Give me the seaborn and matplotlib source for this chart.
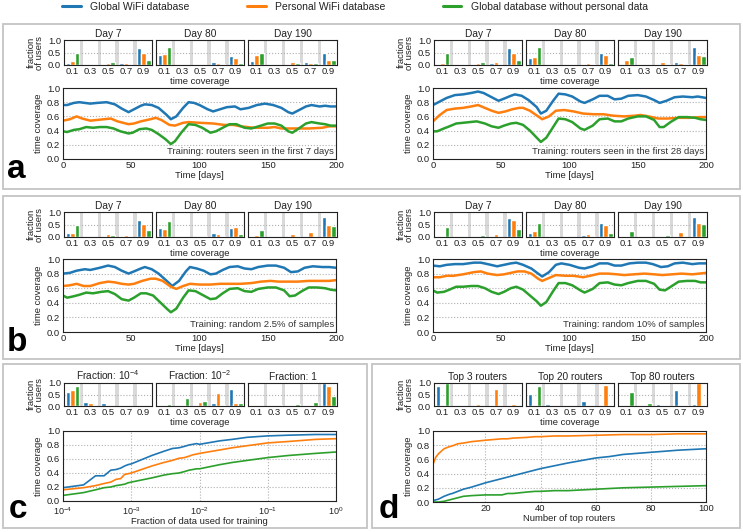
import numpy as np
import pandas as pd
import matplotlib
matplotlib.use("Agg")
import matplotlib.pyplot as plt
import seaborn as sns
from matplotlib.lines import Line2D
from matplotlib.patches import Rectangle

sns.set_style("white")
plt.rcParams['font.family'] = ['Liberation Sans', 'DejaVu Sans']
plt.rcParams['mathtext.fontset'] = 'custom'
plt.rcParams['mathtext.rm'] = 'Liberation Sans'

# ---------------- data ----------------
series_names = ["Global WiFi database", "Personal WiFi database", "Global database without personal data"]
colors = ["#1f77b4", "#ff7f0e", "#2ca02c"]
bins = ["0.1", "0.3", "0.5", "0.7", "0.9"]

# bar histograms: rows = [global, personal, without personal], columns = bins
a1_titles = ["Day 7", "Day 80", "Day 190"]
a1_day7 = [[0.07, 0.00, 0.05, 0.08, 0.68], [0.15, 0.01, 0.10, 0.10, 0.50], [0.47, 0.04, 0.12, 0.00, 0.22]]
a1_day80 = [[0.40, 0.00, 0.00, 0.13, 0.35], [0.45, 0.00, 0.00, 0.10, 0.28], [0.73, 0.00, 0.00, 0.05, 0.10]]
a1_day190 = [[0.15, 0.03, 0.05, 0.12, 0.48], [0.40, 0.03, 0.12, 0.10, 0.22], [0.47, 0.02, 0.08, 0.08, 0.22]]

a2_day7 = [[0.05, 0.00, 0.04, 0.08, 0.68], [0.10, 0.03, 0.08, 0.12, 0.50], [0.47, 0.04, 0.12, 0.00, 0.22]]
a2_day80 = [[0.28, 0.00, 0.00, 0.06, 0.50], [0.33, 0.02, 0.00, 0.10, 0.40], [0.72, 0.00, 0.00, 0.06, 0.10]]
a2_day190 = [[0.00, 0.03, 0.00, 0.12, 0.72], [0.22, 0.02, 0.12, 0.10, 0.42], [0.33, 0.02, 0.05, 0.05, 0.35]]

b1_day7 = [[0.15, 0.00, 0.00, 0.04, 0.70], [0.15, 0.00, 0.12, 0.10, 0.52], [0.48, 0.02, 0.10, 0.00, 0.28]]
b1_day80 = [[0.37, 0.00, 0.00, 0.17, 0.37], [0.33, 0.00, 0.02, 0.12, 0.42], [0.65, 0.00, 0.03, 0.03, 0.12]]
b1_day190 = [[0.00, 0.00, 0.00, 0.05, 0.80], [0.08, 0.00, 0.12, 0.22, 0.48], [0.30, 0.02, 0.05, 0.00, 0.43]]

b2_day7 = [[0.00, 0.00, 0.00, 0.00, 0.78], [0.02, 0.00, 0.05, 0.12, 0.67], [0.40, 0.03, 0.08, 0.00, 0.33]]
b2_day80 = [[0.17, 0.00, 0.03, 0.08, 0.57], [0.23, 0.00, 0.02, 0.13, 0.48], [0.57, 0.00, 0.00, 0.05, 0.15]]
b2_day190 = [[0.00, 0.00, 0.00, 0.05, 0.82], [0.00, 0.02, 0.05, 0.22, 0.57], [0.23, 0.00, 0.08, 0.00, 0.52]]

c_titles = ["Fraction: $10^{-4}$", "Fraction: $10^{-2}$", "Fraction: 1"]
c_frac_1e4 = [[0.60, 0.17, 0.12, 0.00, 0.00], [0.70, 0.12, 0.00, 0.00, 0.00], [0.88, 0.00, 0.00, 0.00, 0.00]]
c_frac_1e2 = [[0.00, 0.02, 0.00, 0.12, 0.75], [0.02, 0.00, 0.17, 0.55, 0.12], [0.08, 0.33, 0.20, 0.05, 0.13]]
c_frac_1 = [[0.00, 0.00, 0.00, 0.00, 0.98], [0.00, 0.00, 0.02, 0.05, 0.88], [0.01, 0.05, 0.08, 0.17, 0.45]]

d_titles = ["Top 3 routers", "Top 20 routers", "Top 80 routers"]
d_top3 = [[0.85, 0.00, 0.00, 0.02, 0.00], [0.00, 0.00, 0.08, 0.72, 0.10], [1.00, 0.00, 0.00, 0.00, 0.00]]
d_top20 = [[0.52, 0.07, 0.00, 0.22, 0.00], [0.05, 0.00, 0.00, 0.05, 0.90], [0.85, 0.02, 0.00, 0.00, 0.00]]
d_top80 = [[0.00, 0.00, 0.08, 0.68, 0.08], [0.00, 0.00, 0.00, 0.00, 1.00], [0.63, 0.13, 0.01, 0.04, 0.00]]

# time series (day, value)
a1_blue = [(0,.76),(3,.76),(8,.79),(12,.80),(20,.78),(25,.79),(32,.80),(38,.77),(43,.71),(48,.66),(52,.70),(57,.75),(60,.77),(65,.76),(70,.72),(76,.62),(79,.56),(83,.60),(88,.72),(92,.80),(96,.79),(100,.76),(106,.70),(110,.67),(115,.70),(120,.73),(126,.74),(130,.70),(136,.72),(142,.76),(148,.78),(154,.76),(160,.72),(165,.66),(168,.64),(172,.68),(178,.74),(182,.76),(188,.74),(192,.75),(196,.74),(200,.74)]
a1_orange = [(0,.54),(5,.56),(10,.60),(14,.57),(20,.54),(25,.55),(30,.56),(35,.57),(40,.53),(48,.49),(52,.50),(57,.53),(64,.56),(68,.58),(72,.55),(78,.48),(82,.47),(88,.51),(92,.52),(100,.51),(110,.50),(118,.48),(125,.48),(130,.46),(140,.44),(150,.44),(155,.45),(160,.43),(170,.43),(180,.43),(190,.44),(195,.46),(200,.46)]
a1_green = [(0,.39),(3,.38),(8,.41),(12,.42),(17,.45),(22,.44),(27,.45),(32,.45),(37,.43),(42,.39),(48,.36),(51,.37),(56,.42),(61,.43),(65,.41),(70,.35),(75,.28),(79,.21),(82,.25),(87,.38),(92,.49),(97,.48),(102,.44),(108,.37),(112,.39),(117,.44),(122,.49),(127,.49),(133,.44),(138,.43),(145,.47),(150,.50),(155,.50),(160,.47),(165,.39),(168,.37),(172,.42),(178,.50),(182,.52),(188,.50),(192,.49),(196,.47),(200,.47)]

a2_blue = [(0,.76),(4,.80),(10,.86),(16,.90),(22,.91),(28,.93),(33,.95),(37,.93),(43,.87),(48,.82),(52,.85),(57,.89),(60,.91),(65,.89),(70,.83),(76,.73),(79,.64),(83,.68),(88,.82),(92,.92),(97,.91),(102,.88),(108,.81),(111,.79),(117,.84),(122,.89),(128,.89),(133,.84),(138,.85),(143,.89),(150,.90),(156,.88),(162,.83),(166,.79),(171,.82),(177,.87),(183,.88),(190,.87),(194,.88),(200,.86)]
a2_orange = [(0,.53),(5,.62),(10,.69),(16,.71),(22,.72),(28,.74),(33,.76),(38,.72),(43,.68),(48,.65),(53,.67),(58,.70),(63,.72),(66,.72),(71,.68),(77,.60),(80,.56),(85,.60),(90,.68),(96,.69),(103,.67),(110,.64),(118,.63),(125,.63),(132,.61),(140,.60),(148,.61),(152,.62),(158,.60),(165,.57),(172,.57),(180,.58),(188,.58),(195,.59),(200,.59)]
a2_green = [(0,.39),(3,.39),(8,.43),(12,.46),(17,.50),(22,.51),(27,.52),(32,.53),(38,.50),(43,.46),(48,.44),(52,.47),(57,.50),(61,.51),(66,.48),(71,.40),(76,.30),(79,.24),(83,.30),(88,.45),(92,.57),(97,.56),(102,.52),(108,.43),(111,.41),(117,.47),(122,.56),(128,.57),(133,.53),(138,.53),(143,.57),(150,.60),(156,.60),(162,.55),(166,.45),(169,.45),(174,.52),(180,.59),(186,.59),(192,.58),(196,.56),(200,.55)]

b1_blue = [(0,.80),(5,.81),(10,.84),(16,.86),(20,.85),(27,.88),(33,.91),(38,.89),(43,.84),(48,.80),(52,.83),(57,.87),(60,.89),(65,.86),(70,.80),(76,.70),(80,.63),(85,.70),(90,.83),(93,.89),(98,.87),(103,.84),(108,.79),(112,.80),(117,.85),(122,.89),(128,.90),(133,.87),(138,.86),(143,.89),(150,.91),(156,.91),(162,.88),(167,.82),(172,.83),(177,.88),(183,.90),(190,.89),(195,.89),(200,.88)]
b1_orange = [(0,.63),(5,.64),(10,.66),(15,.63),(20,.63),(27,.67),(33,.69),(38,.68),(43,.66),(48,.65),(52,.66),(58,.70),(64,.73),(68,.73),(73,.70),(79,.62),(83,.59),(88,.63),(93,.66),(100,.65),(108,.65),(115,.66),(122,.66),(130,.66),(138,.67),(145,.69),(152,.70),(158,.69),(165,.69),(172,.69),(180,.70),(188,.70),(195,.70),(200,.71)]
b1_green = [(0,.50),(3,.47),(8,.49),(12,.51),(17,.54),(22,.53),(28,.55),(33,.56),(38,.52),(43,.45),(48,.43),(52,.47),(57,.53),(61,.53),(66,.50),(71,.41),(76,.32),(79,.27),(83,.32),(88,.47),(92,.57),(97,.56),(102,.51),(108,.45),(112,.46),(117,.53),(122,.59),(128,.60),(133,.56),(138,.55),(143,.59),(150,.61),(156,.61),(162,.57),(166,.49),(170,.50),(175,.56),(180,.61),(186,.61),(192,.60),(196,.58),(200,.57)]

b2_blue = [(0,.91),(5,.90),(10,.92),(16,.93),(22,.93),(30,.95),(35,.95),(40,.93),(47,.90),(52,.92),(57,.94),(61,.95),(66,.92),(72,.87),(77,.80),(80,.76),(85,.82),(90,.92),(94,.94),(100,.92),(107,.88),(111,.87),(117,.90),(122,.94),(128,.94),(133,.91),(138,.91),(144,.94),(150,.95),(156,.95),(161,.93),(167,.89),(172,.90),(177,.94),(183,.95),(190,.93),(195,.94),(200,.94)]
b2_orange = [(0,.75),(5,.75),(10,.77),(15,.77),(22,.79),(30,.82),(35,.83),(40,.80),(47,.78),(52,.79),(57,.81),(62,.83),(67,.83),(72,.80),(77,.73),(80,.70),(85,.74),(90,.78),(97,.77),(103,.77),(110,.75),(115,.77),(122,.80),(128,.80),(135,.79),(140,.78),(147,.79),(155,.80),(162,.79),(168,.78),(175,.79),(182,.80),(190,.79),(195,.80),(200,.81)]
b2_green = [(0,.57),(3,.54),(8,.55),(12,.58),(17,.62),(22,.62),(28,.63),(33,.63),(38,.60),(43,.55),(48,.52),(52,.55),(57,.60),(61,.62),(66,.58),(71,.50),(76,.42),(79,.36),(83,.41),(88,.56),(92,.67),(97,.67),(102,.64),(108,.57),(111,.54),(117,.59),(122,.67),(128,.68),(133,.65),(138,.64),(143,.67),(150,.70),(156,.70),(162,.66),(166,.58),(170,.57),(175,.63),(180,.69),(186,.70),(192,.70),(196,.68),(200,.68)]

c_fraction = [1e-4,2e-4,3e-4,4e-4,5e-4,6e-4,7e-4,8e-4,9e-4,1e-3,2e-3,3e-3,4e-3,5e-3,6e-3,7e-3,8e-3,9e-3,1e-2,2e-2,3e-2,5e-2,0.1,0.2,0.5,1.0]
c_blue = [.19,.23,.36,.36,.44,.45,.47,.50,.52,.53,.65,.71,.75,.76,.78,.80,.81,.82,.81,.86,.88,.91,.93,.94,.95,.95]
c_orange = [.16,.19,.22,.25,.27,.31,.32,.38,.39,.40,.50,.55,.58,.61,.62,.64,.66,.67,.68,.73,.76,.79,.83,.85,.88,.89]
c_green = [.08,.12,.16,.19,.20,.22,.23,.24,.26,.27,.33,.37,.39,.40,.42,.44,.45,.46,.46,.52,.55,.58,.62,.65,.68,.70]

d_routers = [1,2,3,5,7,8,10,12,15,20,26,28,30,35,38,40,45,50,60,65,70,80,90,100]
d_blue = [.02,.03,.04,.08,.11,.12,.15,.18,.21,.27,.33,.35,.37,.42,.45,.47,.51,.55,.62,.64,.67,.70,.73,.75]
d_orange = [.53,.63,.68,.75,.78,.79,.82,.83,.85,.87,.89,.89,.90,.91,.92,.92,.93,.93,.94,.945,.95,.95,.96,.96]
d_green = [.0,.0,.0,.01,.03,.04,.06,.08,.09,.10,.10,.12,.12,.14,.15,.15,.16,.16,.18,.19,.20,.21,.22,.23]

training_texts = ["Training: routers seen in the first 7 days", "Training: routers seen in the first 28 days",
                  "Training: random 2.5% of samples", "Training: random 10% of samples"]

# ---------------- figure ----------------
W, H = 743, 532
fig = plt.figure(figsize=(W / 100, H / 100), dpi=100)

def px(x0, y0, x1, y1):
    return [x0 / W, 1 - y1 / H, (x1 - x0) / W, (y1 - y0) / H]

FS = 6.8
TXT = "#222222"
GRID = dict(color="#b0b0b0", linestyle=":", linewidth=0.8)

def style_ax(ax):
    for s in ax.spines.values():
        s.set_color("#222222")
        s.set_linewidth(0.8)
    ax.tick_params(length=0, labelsize=FS, colors=TXT)
    ax.tick_params(axis="x", pad=1.5)
    ax.tick_params(axis="y", pad=2)

def bar_panel(ax, vals, title, first, middle):
    rows = []
    for si, name in enumerate(series_names):
        for bi, b in enumerate(bins):
            rows.append((b, vals[si][bi], name))
    df = pd.DataFrame(rows, columns=["bin", "value", "series"])
    sns.barplot(data=df, x="bin", y="value", hue="series", order=bins, hue_order=series_names,
                palette=colors, saturation=1, width=0.78, legend=False, ax=ax, zorder=2,
                errorbar=None)
    for i in range(4):
        ax.axvspan(i + 0.41, i + 0.60, color="#d9d9d9", lw=0, zorder=0)
    ax.set_xlim(-0.48, 4.47)
    ax.set_ylim(0, 1.0)
    ax.set_yticks([0.0, 0.5, 1.0])
    ax.yaxis.grid(True, **GRID)
    ax.set_axisbelow(True)
    style_ax(ax)
    ax.set_title(title, fontsize=7.3, pad=2, color=TXT)
    if first:
        ax.set_ylabel("fraction\nof users", fontsize=FS, color=TXT, labelpad=3, linespacing=0.9)
        ax.set_yticklabels(["0.0", "0.5", "1.0"])
    else:
        ax.set_ylabel("")
        ax.set_yticklabels([])
    ax.set_xlabel("time coverage" if middle else "", fontsize=FS, color=TXT, labelpad=1)

def series_df(triples):
    rows = []
    for name, pts in zip(series_names, triples):
        for d, v in pts:
            rows.append((d, v, name))
    return pd.DataFrame(rows, columns=["x", "y", "series"])

def finish_line_ax(ax, xlabel):
    ax.set_ylim(0, 1.0)
    ax.set_yticks(np.arange(0, 1.01, 0.2))
    ax.set_yticklabels([f"{v:.1f}" for v in np.arange(0, 1.01, 0.2)])
    ax.set_axisbelow(True)
    style_ax(ax)
    ax.set_xlabel(xlabel, fontsize=FS, color=TXT, labelpad=1)
    ax.set_ylabel("time coverage", fontsize=FS, color=TXT, labelpad=3)

def time_panel(ax, triples, text):
    df = series_df(triples)
    sns.lineplot(data=df, x="x", y="y", hue="series", hue_order=series_names, palette=colors,
                 estimator=None, legend=False, linewidth=1.8, ax=ax)
    ax.set_xlim(0, 200)
    ax.set_xticks([0, 50, 100, 150, 200])
    ax.yaxis.grid(True, **GRID)
    finish_line_ax(ax, "Time [days]")
    ax.text(0.993, 0.04, text, transform=ax.transAxes, ha="right", va="bottom", fontsize=FS, color="#333333")

bar_x = [(64, 152), (156, 244), (248, 337)]

def bar_row(off, y0, y1, sets, titles):
    for k, ((x0, x1), vals, t) in enumerate(zip(bar_x, sets, titles)):
        ax = fig.add_axes(px(x0 + off, y0, x1 + off, y1))
        bar_panel(ax, vals, t, k == 0, k == 1)

# boxes
for (x0, y0, x1, y1) in [(3, 24, 740, 189), (3, 196, 740, 359), (3, 364, 367, 528), (372, 364, 740, 528)]:
    fig.patches.append(Rectangle((x0 / W, 1 - y1 / H), (x1 - x0) / W, (y1 - y0) / H,
                                 transform=fig.transFigure, fill=False, edgecolor="#c4c4c4", linewidth=1.3))

# row a
bar_row(0, 40, 65, [a1_day7, a1_day80, a1_day190], a1_titles)
bar_row(370, 40, 65, [a2_day7, a2_day80, a2_day190], a1_titles)
time_panel(fig.add_axes(px(63, 88, 336, 159)), [a1_blue, a1_orange, a1_green], training_texts[0])
time_panel(fig.add_axes(px(433, 88, 706, 159)), [a2_blue, a2_orange, a2_green], training_texts[1])

# row b
bar_row(0, 212, 237, [b1_day7, b1_day80, b1_day190], a1_titles)
bar_row(370, 212, 237, [b2_day7, b2_day80, b2_day190], a1_titles)
time_panel(fig.add_axes(px(63, 259, 336, 332)), [b1_blue, b1_orange, b1_green], training_texts[2])
time_panel(fig.add_axes(px(433, 259, 706, 332)), [b2_blue, b2_orange, b2_green], training_texts[3])

# row c
bar_row(0, 383, 406, [c_frac_1e4, c_frac_1e2, c_frac_1], c_titles)
axc = fig.add_axes(px(63, 431, 336, 501))
dfc = pd.DataFrame({"x": c_fraction * 3,
                    "y": c_blue + c_orange + c_green,
                    "series": sum([[n] * len(c_fraction) for n in series_names], [])})
sns.lineplot(data=dfc, x="x", y="y", hue="series", hue_order=series_names, palette=colors,
             estimator=None, legend=False, linewidth=1.2, ax=axc)
axc.set_xscale("log")
axc.set_xlim(1e-4, 1)
axc.set_xticks([1e-4, 1e-3, 1e-2, 1e-1, 1])
axc.minorticks_off()
axc.grid(True, which="major", **GRID)
finish_line_ax(axc, "Fraction of data used for training")
axc.tick_params(axis="x", pad=3, labelsize=6.5)
axc.xaxis.labelpad = 0

# row d
bar_row(370, 383, 406, [d_top3, d_top20, d_top80], d_titles)
axd = fig.add_axes(px(433, 431, 706, 502))
dfd = pd.DataFrame({"x": d_routers * 3,
                    "y": d_blue + d_orange + d_green,
                    "series": sum([[n] * len(d_routers) for n in series_names], [])})
sns.lineplot(data=dfd, x="x", y="y", hue="series", hue_order=series_names, palette=colors,
             estimator=None, legend=False, linewidth=1.2, ax=axd)
axd.set_xlim(1, 100)
axd.set_xticks([20, 40, 60, 80, 100])
axd.grid(True, **GRID)
finish_line_ax(axd, "Number of top routers")

# panel letters
for letter, (x, y) in zip("abcd", [(7, 178), (7, 351), (9, 518), (379, 518)]):
    fig.text(x / W, 1 - y / H, letter, fontsize=24, fontweight="bold", color="black", va="baseline")

# legend
handles = [Line2D([0], [0], color=c, lw=2.2) for c in colors]
fig.legend(handles, series_names, loc="center", bbox_to_anchor=(355 / W, 1 - 7 / H), ncol=3,
           frameon=False, fontsize=7.5, handlelength=1.8, handletextpad=0.9, columnspacing=5.5,
           borderpad=0, labelcolor=TXT)

fig.savefig("out.png", dpi=100)
